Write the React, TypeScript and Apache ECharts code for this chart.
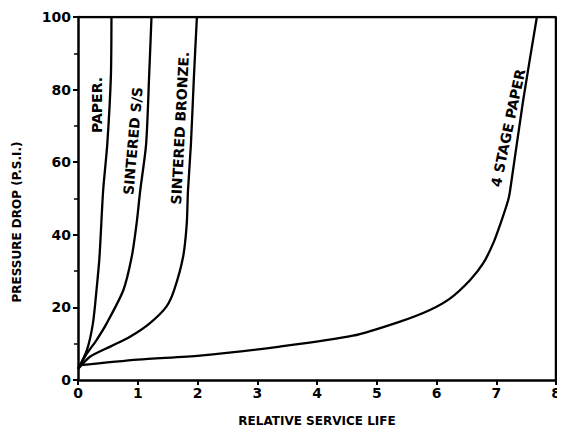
import React, { useEffect, useRef } from "react";
import * as echarts from "echarts";

const xTicks = [0, 1, 2, 3, 4, 5, 6, 7, 8];
const yTicks = [0, 20, 40, 60, 80, 100];
const X_MAX = 8;
const Y_MAX = 100;

const paper: [number, number][] = [
  [0, 3], [0.15, 8.3], [0.25, 15.6], [0.31, 24.8], [0.36, 34], [0.42, 52],
  [0.49, 65], [0.55, 83.5], [0.56, 100],
];
const sinteredSS: [number, number][] = [
  [0, 3], [0.15, 7.3], [0.31, 11], [0.48, 15.6], [0.76, 24.8], [0.9, 34],
  [0.98, 43], [1.04, 52], [1.14, 65], [1.19, 83.5], [1.23, 100],
];
const sinteredBronze: [number, number][] = [
  [0, 3], [0.2, 6.4], [0.54, 9.2], [0.87, 11.9], [1.2, 15.6], [1.48, 20.2],
  [1.61, 24.8], [1.76, 34], [1.82, 43], [1.84, 52], [1.89, 65], [1.94, 83.5],
  [1.99, 100],
];
const fourStagePaper: [number, number][] = [
  [0, 4], [1, 5.6], [2.04, 6.7], [3.38, 9.2], [4.6, 12.2], [5.39, 16.1],
  [5.89, 19.3], [6.23, 22.5], [6.56, 27.5], [6.78, 32.1], [6.95, 37.7],
  [7.09, 44], [7.2, 49.6], [7.23, 52], [7.45, 77], [7.68, 100],
];
const frame: [number, number][] = [
  [0, Y_MAX], [X_MAX, Y_MAX], [X_MAX, 0],
];

const curveLabels = [
  { text: "PAPER.", x: 97, y: 105, angle: 90 },
  { text: "SINTERED S/S", x: 133, y: 141, angle: 85 },
  { text: "SINTERED BRONZE.", x: 180, y: 128, angle: 87 },
  { text: "4 STAGE PAPER", x: 508, y: 128, angle: 78 },
];

const FONT = "DejaVu Sans";

export default function App() {
  const ref = useRef<HTMLDivElement>(null);
  useEffect(() => {
    if (!ref.current) return;
    const chart = echarts.init(ref.current, undefined, { renderer: "svg" });
    const lineSeries = (name: string, data: [number, number][]) => ({
      name,
      type: "line",
      data,
      symbol: "none",
      smooth: 0.25,
      lineStyle: { color: "#000", width: 2.3 },
    });
    const frameAxis = { lineStyle: { color: "#000", width: 2.5 } };
    chart.setOption({
      animation: false,
      backgroundColor: "#fff",
      textStyle: { fontFamily: FONT },
      grid: { left: 78, right: 9, top: 17, bottom: 53 },
      xAxis: {
        type: "value",
        min: 0,
        max: X_MAX,
        interval: 1,
        name: "RELATIVE SERVICE LIFE",
        nameLocation: "middle",
        nameGap: 35,
        nameTextStyle: { color: "#000", fontSize: 12, fontWeight: "bold", fontFamily: FONT },
        axisLine: frameAxis,
        axisTick: { show: true, length: 5, lineStyle: { color: "#000", width: 2 } },
        axisLabel: {
          color: "#000",
          fontSize: 14,
          fontWeight: "bold",
          margin: 6,
          formatter: (v: number) => (xTicks.includes(v) ? String(v) : ""),
        },
        splitLine: { show: false },
      },
      yAxis: {
        type: "value",
        min: 0,
        max: Y_MAX,
        interval: 20,
        axisLine: frameAxis,
        axisTick: { show: true, length: 5, lineStyle: { color: "#000", width: 2 } },
        minorTick: { show: true, splitNumber: 2, length: 4, lineStyle: { color: "#000", width: 1.5 } },
        axisLabel: {
          color: "#000",
          fontSize: 14,
          fontWeight: "bold",
          margin: 7,
          formatter: (v: number) => (yTicks.includes(v) ? String(v) : ""),
        },
        splitLine: { show: false },
      },
      series: [
        {
          name: "Frame",
          type: "line",
          data: frame,
          symbol: "none",
          lineStyle: { color: "#000", width: 2.5 },
        },
        lineSeries("Paper", paper),
        lineSeries("Sintered S/S", sinteredSS),
        lineSeries("Sintered Bronze", sinteredBronze),
        lineSeries("4 Stage Paper", fourStagePaper),
      ],
      graphic: [
        {
          type: "text",
          x: 17,
          y: 222,
          rotation: Math.PI / 2,
          style: {
            text: "PRESSURE DROP (P.S.I.)",
            fill: "#000",
            font: `bold 12px "${FONT}"`,
            textAlign: "center",
            textVerticalAlign: "middle",
          },
        },
        ...curveLabels.map((l) => ({
          type: "text",
          x: l.x,
          y: l.y,
          rotation: (l.angle * Math.PI) / 180,
          z: 10,
          style: {
            text: l.text,
            fill: "#000",
            font: `bold 14px "${FONT}"`,
            textAlign: "center",
            textVerticalAlign: "middle",
          },
        })),
      ],
    });
    return () => chart.dispose();
  }, []);
  return <div ref={ref} style={{ width: 565, height: 433, margin: -8 }} />;
}
